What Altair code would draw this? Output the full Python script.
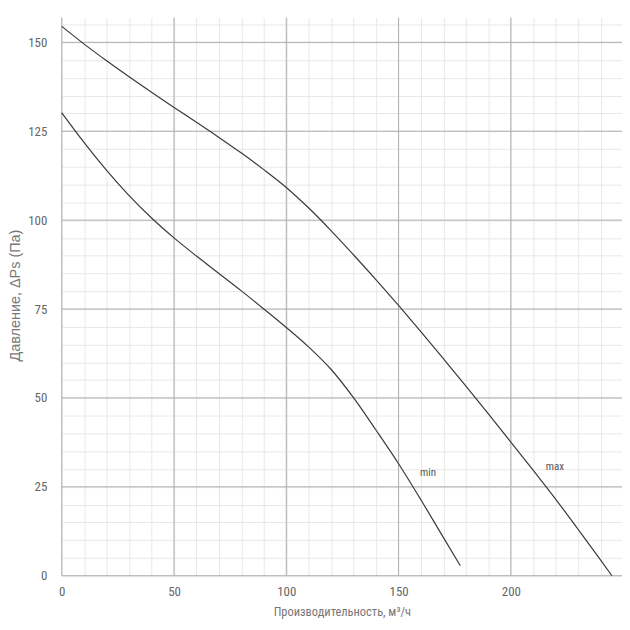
import altair as alt
import pandas as pd

# --- data ---
max_x = [0, 10, 20, 30, 40, 50, 60, 70, 80, 90, 100, 110, 120, 130, 140, 150,
         160, 170, 180, 190, 200, 210, 220, 230, 240, 245]
max_y = [154.5, 149.5, 144.8, 140.3, 135.95, 131.7, 127.5, 123.25, 118.85,
         114.2, 109.2, 103.4, 97.0, 90.2, 83.2, 76.0, 68.6, 61.0, 53.3, 45.5,
         37.6, 29.6, 21.5, 13.0, 4.4, 0.0]
min_x = [0, 10, 20, 30, 40, 50, 60, 70, 80, 90, 100, 110, 120, 130, 140, 150,
         160, 170, 177.5]
min_y = [130.2, 121.8, 114.0, 106.9, 100.6, 95.0, 89.9, 85.0, 80.1, 75.0,
         69.8, 64.3, 58.0, 50.0, 40.9, 31.5, 21.3, 10.7, 2.8]

x_major = [0, 50, 100, 150, 200]
y_major = [0, 25, 50, 75, 100, 125, 150]
x_minor = list(range(0, 250, 10))
y_minor = list(range(0, 160, 5))

label_text = ["min", "max"]
label_x = [159.5, 215.5]
label_y = [29.0, 30.5]

x_title = "Производительность, м³/ч"
y_title = "Давление, ΔPs (Па)"

NARROW = "Liberation Sans Narrow, Roboto Condensed, DejaVu Sans Condensed, Arial Narrow, sans-serif"
REG = "Liberation Sans, Arial, sans-serif"

curves = pd.DataFrame({
    "q": max_x + min_x,
    "p": max_y + min_y,
    "s": ["max"] * len(max_x) + ["min"] * len(min_x),
    "o": list(range(len(max_x))) + list(range(len(min_x))),
})
labels = pd.DataFrame({"q": label_x, "p": label_y, "t": label_text})
vr = pd.DataFrame({"q": x_major})
hr = pd.DataFrame({"p": y_major})

xs = alt.Scale(domain=[0, 249.5], nice=False, zero=False)
ys = alt.Scale(domain=[0, 157], nice=False, zero=False)

x_axis = alt.Axis(
    values=x_minor, labelExpr="datum.value % 50 === 0 ? datum.label : ''",
    grid=True, gridColor="#e8e8e8", gridWidth=1, ticks=False, domain=False,
    labelFont=NARROW, labelFontSize=13, labelColor="#666", labelPadding=10,
    labelFlush=False, labelOverlap=False,
    title=x_title, titleFont=NARROW, titleFontSize=12.5, titleFontWeight="normal",
    titleColor="#777", titleX=281.5, titleY=36, titleAlign="center",
    titleBaseline="middle",
)
y_axis = alt.Axis(
    values=y_minor, labelExpr="datum.value % 25 === 0 ? datum.label : ''",
    grid=True, gridColor="#e8e8e8", gridWidth=1, ticks=False, domain=False,
    labelFont=NARROW, labelFontSize=13, labelColor="#666", labelPadding=15,
    labelFlush=False, labelOverlap=False,
    title=y_title, titleFont=REG, titleFontSize=14.5, titleFontWeight="normal",
    titleColor="#777", titleX=-46, titleY=279, titleAlign="center",
    titleBaseline="middle", titleAngle=270,
)

X = alt.X("q:Q", scale=xs, axis=x_axis, title=x_title)
Y = alt.Y("p:Q", scale=ys, axis=y_axis, title=y_title)

vrules = alt.Chart(vr).mark_rule(color="#acacac", strokeWidth=1).encode(x=X)
hrules = alt.Chart(hr).mark_rule(color="#acacac", strokeWidth=1).encode(y=Y)

lines = alt.Chart(curves).mark_line(
    color="#3a3a3a", strokeWidth=1.2, interpolate="monotone"
).encode(x=X, y=Y, detail="s:N", order="o:Q")

texts = alt.Chart(labels).mark_text(
    align="left", baseline="middle", font=NARROW, fontSize=11, color="#555"
).encode(x=X, y=Y, text="t:N")

chart = alt.layer(vrules, hrules, lines, texts).properties(
    width=563, height=561,
    autosize=alt.AutoSizeParams(type="none"),
    padding={"left": 54, "top": 8, "right": 0, "bottom": 44},
    background="white",
).configure_view(stroke=None)

chart.save("out.html", embed_options={"renderer": "svg", "actions": False})
